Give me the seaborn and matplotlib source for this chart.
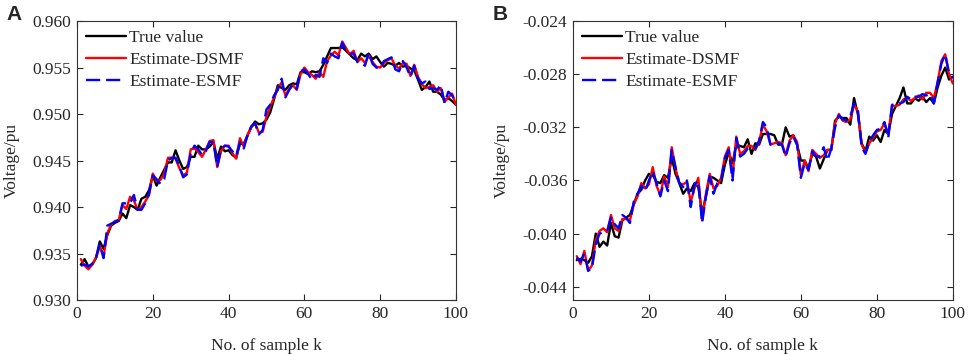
import numpy as np
import pandas as pd
import matplotlib
matplotlib.use("Agg")
import matplotlib.pyplot as plt
import seaborn as sns

# sample index
k = np.arange(1, 101)

# panel A - voltage magnitude
true_a = [0.9338, 0.9344, 0.9336, 0.9338, 0.9345, 0.9363, 0.9355, 0.9370, 0.9380, 0.9383,
          0.9385, 0.9393, 0.9388, 0.9402, 0.9400, 0.9397, 0.9409, 0.9411, 0.9418, 0.9434,
          0.9423, 0.9432, 0.9440, 0.9448, 0.9448, 0.9461, 0.9450, 0.9441, 0.9443, 0.9454,
          0.9454, 0.9466, 0.9462, 0.9462, 0.9465, 0.9470, 0.9452, 0.9465, 0.9460, 0.9461,
          0.9456, 0.9453, 0.9468, 0.9468, 0.9477, 0.9486, 0.9492, 0.9489, 0.9490, 0.9494,
          0.9502, 0.9516, 0.9531, 0.9528, 0.9526, 0.9531, 0.9533, 0.9532, 0.9545, 0.9545,
          0.9543, 0.9546, 0.9545, 0.9546, 0.9553, 0.9562, 0.9571, 0.9571, 0.9571, 0.9572,
          0.9568, 0.9564, 0.9560, 0.9558, 0.9565, 0.9562, 0.9565, 0.9559, 0.9562, 0.9556,
          0.9551, 0.9555, 0.9554, 0.9552, 0.9555, 0.9551, 0.9552, 0.9549, 0.9547, 0.9537,
          0.9526, 0.9529, 0.9535, 0.9524, 0.9524, 0.9521, 0.9515, 0.9517, 0.9514, 0.9510]
dsmf_a = [0.9344, 0.9337, 0.9333, 0.9338, 0.9346, 0.9358, 0.9347, 0.9372, 0.9381, 0.9385,
          0.9386, 0.9402, 0.9398, 0.9411, 0.9407, 0.9397, 0.9400, 0.9406, 0.9413, 0.9436,
          0.9428, 0.9429, 0.9436, 0.9453, 0.9453, 0.9452, 0.9442, 0.9434, 0.9437, 0.9462,
          0.9463, 0.9459, 0.9454, 0.9462, 0.9471, 0.9472, 0.9443, 0.9460, 0.9466, 0.9466,
          0.9458, 0.9452, 0.9474, 0.9465, 0.9478, 0.9486, 0.9490, 0.9480, 0.9481, 0.9497,
          0.9508, 0.9518, 0.9528, 0.9534, 0.9520, 0.9527, 0.9531, 0.9526, 0.9543, 0.9550,
          0.9545, 0.9542, 0.9538, 0.9545, 0.9540, 0.9557, 0.9563, 0.9567, 0.9563, 0.9578,
          0.9571, 0.9564, 0.9568, 0.9556, 0.9560, 0.9555, 0.9563, 0.9556, 0.9551, 0.9550,
          0.9555, 0.9558, 0.9560, 0.9552, 0.9549, 0.9555, 0.9554, 0.9541, 0.9553, 0.9540,
          0.9532, 0.9528, 0.9529, 0.9531, 0.9524, 0.9528, 0.9513, 0.9518, 0.9522, 0.9510]
esmf_a = [0.9337, 0.9338, 0.9336, 0.9339, 0.9345, 0.9360, 0.9345, 0.9380, 0.9382, 0.9384,
          0.9386, 0.9404, 0.9404, 0.9404, 0.9413, 0.9397, 0.9397, 0.9404, 0.9414, 0.9434,
          0.9430, 0.9425, 0.9430, 0.9450, 0.9453, 0.9453, 0.9444, 0.9432, 0.9435, 0.9458,
          0.9466, 0.9462, 0.9456, 0.9460, 0.9470, 0.9470, 0.9443, 0.9462, 0.9466, 0.9465,
          0.9460, 0.9455, 0.9470, 0.9463, 0.9477, 0.9487, 0.9490, 0.9478, 0.9483, 0.9505,
          0.9510, 0.9520, 0.9526, 0.9538, 0.9518, 0.9526, 0.9532, 0.9527, 0.9546, 0.9548,
          0.9543, 0.9537, 0.9542, 0.9540, 0.9560, 0.9555, 0.9565, 0.9562, 0.9560, 0.9577,
          0.9568, 0.9565, 0.9565, 0.9556, 0.9555, 0.9552, 0.9566, 0.9554, 0.9550, 0.9549,
          0.9557, 0.9559, 0.9561, 0.9548, 0.9546, 0.9557, 0.9550, 0.9540, 0.9552, 0.9538,
          0.9533, 0.9535, 0.9527, 0.9528, 0.9526, 0.9531, 0.9512, 0.9524, 0.9520, 0.9512]

# panel B
true_b = [-0.0420, -0.0419, -0.0420, -0.0422, -0.0417, -0.0400, -0.0410, -0.0406, -0.0409, -0.0392,
          -0.0402, -0.0403, -0.0390, -0.0388, -0.0386, -0.0378, -0.0370, -0.0367, -0.0360, -0.0355,
          -0.0356, -0.0361, -0.0362, -0.0356, -0.0358, -0.0343, -0.0355, -0.0362, -0.0370, -0.0366,
          -0.0368, -0.0362, -0.0365, -0.0385, -0.0372, -0.0357, -0.0358, -0.0360, -0.0362, -0.0348,
          -0.0339, -0.0347, -0.0333, -0.0334, -0.0335, -0.0329, -0.0340, -0.0332, -0.0333, -0.0325,
          -0.0325, -0.0325, -0.0326, -0.0333, -0.0333, -0.0320, -0.0327, -0.0326, -0.0333, -0.0345,
          -0.0345, -0.0351, -0.0340, -0.0342, -0.0351, -0.0344, -0.0337, -0.0337, -0.0315, -0.0312,
          -0.0313, -0.0313, -0.0318, -0.0298, -0.0310, -0.0332, -0.0338, -0.0327, -0.0330, -0.0326,
          -0.0331, -0.0322, -0.0325, -0.0310, -0.0304, -0.0298, -0.0290, -0.0302, -0.0302, -0.0298,
          -0.0300, -0.0297, -0.0301, -0.0298, -0.0302, -0.0290, -0.0281, -0.0275, -0.0284, -0.0282]
dsmf_b = [-0.0417, -0.0423, -0.0413, -0.0428, -0.0424, -0.0405, -0.0398, -0.0396, -0.0399, -0.0386,
          -0.0396, -0.0398, -0.0389, -0.0389, -0.0390, -0.0378, -0.0372, -0.0362, -0.0366, -0.0363,
          -0.0350, -0.0364, -0.0371, -0.0357, -0.0365, -0.0335, -0.0351, -0.0362, -0.0363, -0.0361,
          -0.0376, -0.0366, -0.0358, -0.0390, -0.0370, -0.0355, -0.0366, -0.0364, -0.0358, -0.0342,
          -0.0335, -0.0357, -0.0327, -0.0340, -0.0338, -0.0334, -0.0334, -0.0337, -0.0331, -0.0318,
          -0.0323, -0.0333, -0.0332, -0.0331, -0.0332, -0.0341, -0.0330, -0.0326, -0.0331, -0.0356,
          -0.0345, -0.0353, -0.0337, -0.0340, -0.0343, -0.0341, -0.0337, -0.0337, -0.0317, -0.0310,
          -0.0315, -0.0316, -0.0314, -0.0303, -0.0308, -0.0333, -0.0339, -0.0332, -0.0328, -0.0323,
          -0.0322, -0.0317, -0.0325, -0.0304, -0.0304, -0.0303, -0.0299, -0.0298, -0.0300, -0.0298,
          -0.0296, -0.0299, -0.0294, -0.0294, -0.0298, -0.0286, -0.0270, -0.0265, -0.0280, -0.0287]
esmf_b = [-0.0418, -0.0421, -0.0415, -0.0428, -0.0426, -0.0408, -0.0400, -0.0399, -0.0398, -0.0388,
          -0.0393, -0.0396, -0.0386, -0.0388, -0.0392, -0.0376, -0.0370, -0.0364, -0.0368, -0.0360,
          -0.0353, -0.0362, -0.0372, -0.0360, -0.0368, -0.0337, -0.0350, -0.0362, -0.0365, -0.0360,
          -0.0380, -0.0363, -0.0360, -0.0392, -0.0372, -0.0357, -0.0370, -0.0362, -0.0360, -0.0343,
          -0.0337, -0.0360, -0.0328, -0.0342, -0.0340, -0.0336, -0.0335, -0.0336, -0.0330, -0.0316,
          -0.0320, -0.0333, -0.0333, -0.0332, -0.0333, -0.0342, -0.0332, -0.0327, -0.0333, -0.0358,
          -0.0347, -0.0352, -0.0338, -0.0342, -0.0342, -0.0335, -0.0345, -0.0336, -0.0320, -0.0311,
          -0.0314, -0.0315, -0.0312, -0.0302, -0.0307, -0.0335, -0.0340, -0.0331, -0.0326, -0.0322,
          -0.0321, -0.0316, -0.0328, -0.0303, -0.0303, -0.0302, -0.0301, -0.0297, -0.0299, -0.0297,
          -0.0297, -0.0295, -0.0296, -0.0295, -0.0302, -0.0286, -0.0272, -0.0265, -0.0279, -0.0283]

series_names = ["True value", "Estimate-DSMF", "Estimate-ESMF"]
yticks_a = [0.930, 0.935, 0.940, 0.945, 0.950, 0.955, 0.960]
ylim_a = (0.930, 0.960)
yticks_b = [-0.044, -0.040, -0.036, -0.032, -0.028, -0.024]
ylim_b = (-0.045, -0.024)
xticks = [0, 20, 40, 60, 80, 100]

sns.set_style("ticks")
plt.rcParams['font.family'] = ['Liberation Serif', 'DejaVu Serif']
plt.rcParams['xtick.direction'] = 'in'
plt.rcParams['ytick.direction'] = 'in'

fig = plt.figure(figsize=(9.69, 3.54), dpi=100)
ax_a = fig.add_axes([0.0795, 0.1525, 0.391, 0.788])
ax_b = fig.add_axes([0.5913, 0.1525, 0.392, 0.788])

colors = {"True value": "black", "Estimate-DSMF": "#ff0000", "Estimate-ESMF": "#0000ff"}
dashes = {"True value": "", "Estimate-DSMF": "", "Estimate-ESMF": (6, 2.5)}


def draw(ax, vals, yticks, ylim, letter, letter_x):
    df = pd.DataFrame({"k": np.tile(k, 3),
                       "v": np.concatenate(vals),
                       "series": np.repeat(series_names, len(k))})
    sns.lineplot(data=df, x="k", y="v", hue="series", style="series",
                 palette=colors, dashes=dashes, linewidth=1.7, ax=ax,
                 estimator=None, sort=False)
    ax.set_xlim(0, 100)
    ax.set_ylim(*ylim)
    ax.set_xticks(xticks)
    ax.set_yticks(yticks)
    ax.set_yticklabels(["{:.3f}".format(t) for t in yticks])
    ax.tick_params(labelsize=12.5, length=4, width=0.8, top=True, right=True, pad=4)
    ax.set_xlabel("No. of sample k", fontsize=12.5, labelpad=12)
    ax.set_ylabel("Voltage/pu", fontsize=12.5, labelpad=9)
    for s in ax.spines.values():
        s.set_linewidth(0.8)
        s.set_color("#333333")
    ax.legend(loc="upper left", frameon=False, fontsize=12.5,
              handlelength=2.3, handletextpad=0.2, labelspacing=0.35,
              borderaxespad=0.3, borderpad=0.2)
    fig.text(letter_x, 0.985, letter, fontsize=15,
             fontweight="bold", family="Liberation Sans", va="top", ha="left")


draw(ax_a, [true_a, dsmf_a, esmf_a], yticks_a, ylim_a, "A", 0.007)
draw(ax_b, [true_b, dsmf_b, esmf_b], yticks_b, ylim_b, "B", 0.508)

fig.savefig("out.png", dpi=100)
